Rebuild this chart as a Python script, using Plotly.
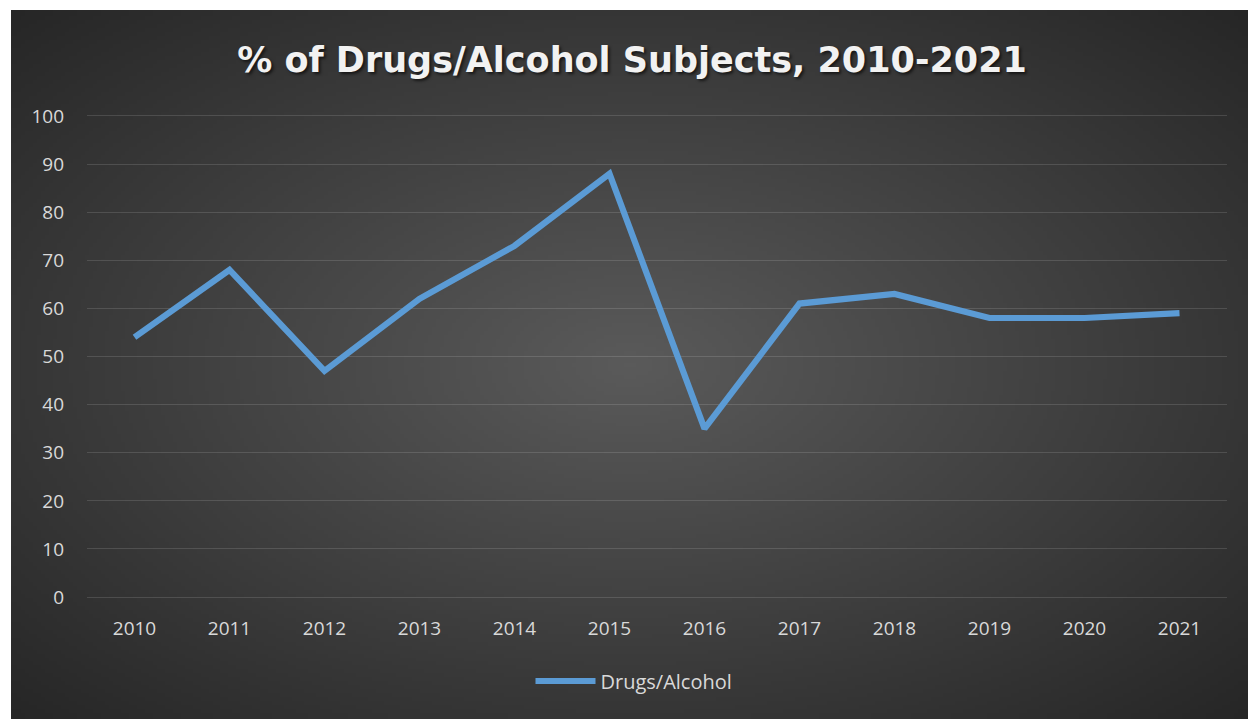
import base64
import struct
import zlib

import numpy as np
import plotly.graph_objects as go

# Series data
years = ["2010", "2011", "2012", "2013", "2014", "2015",
         "2016", "2017", "2018", "2019", "2020", "2021"]
drugs_alcohol = [54, 68, 47, 62, 73, 88, 35, 61, 63, 58, 58, 59]
y_ticks = [0, 10, 20, 30, 40, 50, 60, 70, 80, 90, 100]

W, H = 1248, 719
ML, MR, MT, MB = 87, 21, 114, 120
PW, PH = W - ML - MR, H - MT - MB


def radial_png(w, h, inner, outer):
    """Encode a radial gray gradient as a PNG data URI."""
    yy, xx = np.mgrid[0:h, 0:w].astype(float)
    dx = (xx - (w - 1) / 2) / ((w - 1) / 2)
    dy = (yy - (h - 1) / 2) / ((h - 1) / 2)
    r = np.clip(np.sqrt(dx ** 2 + dy ** 2) / np.sqrt(2), 0, 1)
    v = inner + (outer - inner) * r
    img = np.repeat(v[:, :, None], 3, axis=2).round().astype(np.uint8)
    raw = b"".join(b"\x00" + img[i].tobytes() for i in range(h))

    def chunk(tag, data):
        body = tag + data
        return struct.pack(">I", len(data)) + body + struct.pack(">I", zlib.crc32(body) & 0xFFFFFFFF)

    png = b"\x89PNG\r\n\x1a\n"
    png += chunk(b"IHDR", struct.pack(">IIBBBBB", w, h, 8, 2, 0, 0, 0))
    png += chunk(b"IDAT", zlib.compress(raw, 9))
    png += chunk(b"IEND", b"")
    return "data:image/png;base64," + base64.b64encode(png).decode()


bg_src = radial_png(310, 178, 0x5a, 0x26)

# background box in pixel space, converted to paper coordinates
bx0, bx1, by0, by1 = 11, W, 10, H
img_x = (bx0 - ML) / PW
img_y = (H - MB - by0) / PH
img_sx = (bx1 - bx0) / PW
img_sy = (by1 - by0) / PH

fig = go.Figure()
fig.add_trace(go.Scatter(
    x=years, y=drugs_alcohol, mode="lines", name="Drugs/Alcohol",
    line=dict(color="#5b9bd5", width=6.2),
))

tick_font = dict(family="Open Sans, sans-serif", size=19, color="#d9d9d9")
grid_col = "rgba(255,255,255,0.13)"

fig.update_layout(
    width=W, height=H,
    margin=dict(l=ML, r=MR, t=MT, b=MB),
    paper_bgcolor="white",
    plot_bgcolor="rgba(0,0,0,0)",
    images=[dict(source=bg_src, xref="paper", yref="paper",
                 x=img_x, y=img_y, sizex=img_sx, sizey=img_sy,
                 xanchor="left", yanchor="top", sizing="stretch",
                 layer="below")],
    title=dict(
        text="% of Drugs/Alcohol Subjects, 2010-2021",
        x=632 / W, xanchor="center",
        y=1 - 60 / H, yanchor="middle",
        font=dict(family="DejaVu Sans, sans-serif", size=35, color="#f2f2f2",
                  weight="bold", shadow="2px 2px 3px rgba(0,0,0,0.6)"),
    ),
    xaxis=dict(
        type="category", range=[-0.5, 11.5],
        showgrid=False, zeroline=False, showline=False,
        tickfont=tick_font, ticks="", ticklabelstandoff=16,
    ),
    yaxis=dict(
        range=[-0.4, 100.4], tickvals=y_ticks,
        showgrid=True, gridcolor=grid_col, gridwidth=1.2,
        zeroline=True, zerolinecolor=grid_col, zerolinewidth=1.2,
        showline=False,
        tickfont=tick_font, ticks="", ticklabelstandoff=22,
    ),
    showlegend=True,
    legend=dict(
        orientation="h", x=(634 - ML) / PW, xanchor="center",
        y=(H - MB - 681) / PH, yanchor="middle",
        bgcolor="rgba(0,0,0,0)", itemwidth=60,
        font=dict(family="Open Sans, sans-serif", size=20, color="#d9d9d9"),
    ),
    hovermode=False,
)

fig.write_html("out.html")
